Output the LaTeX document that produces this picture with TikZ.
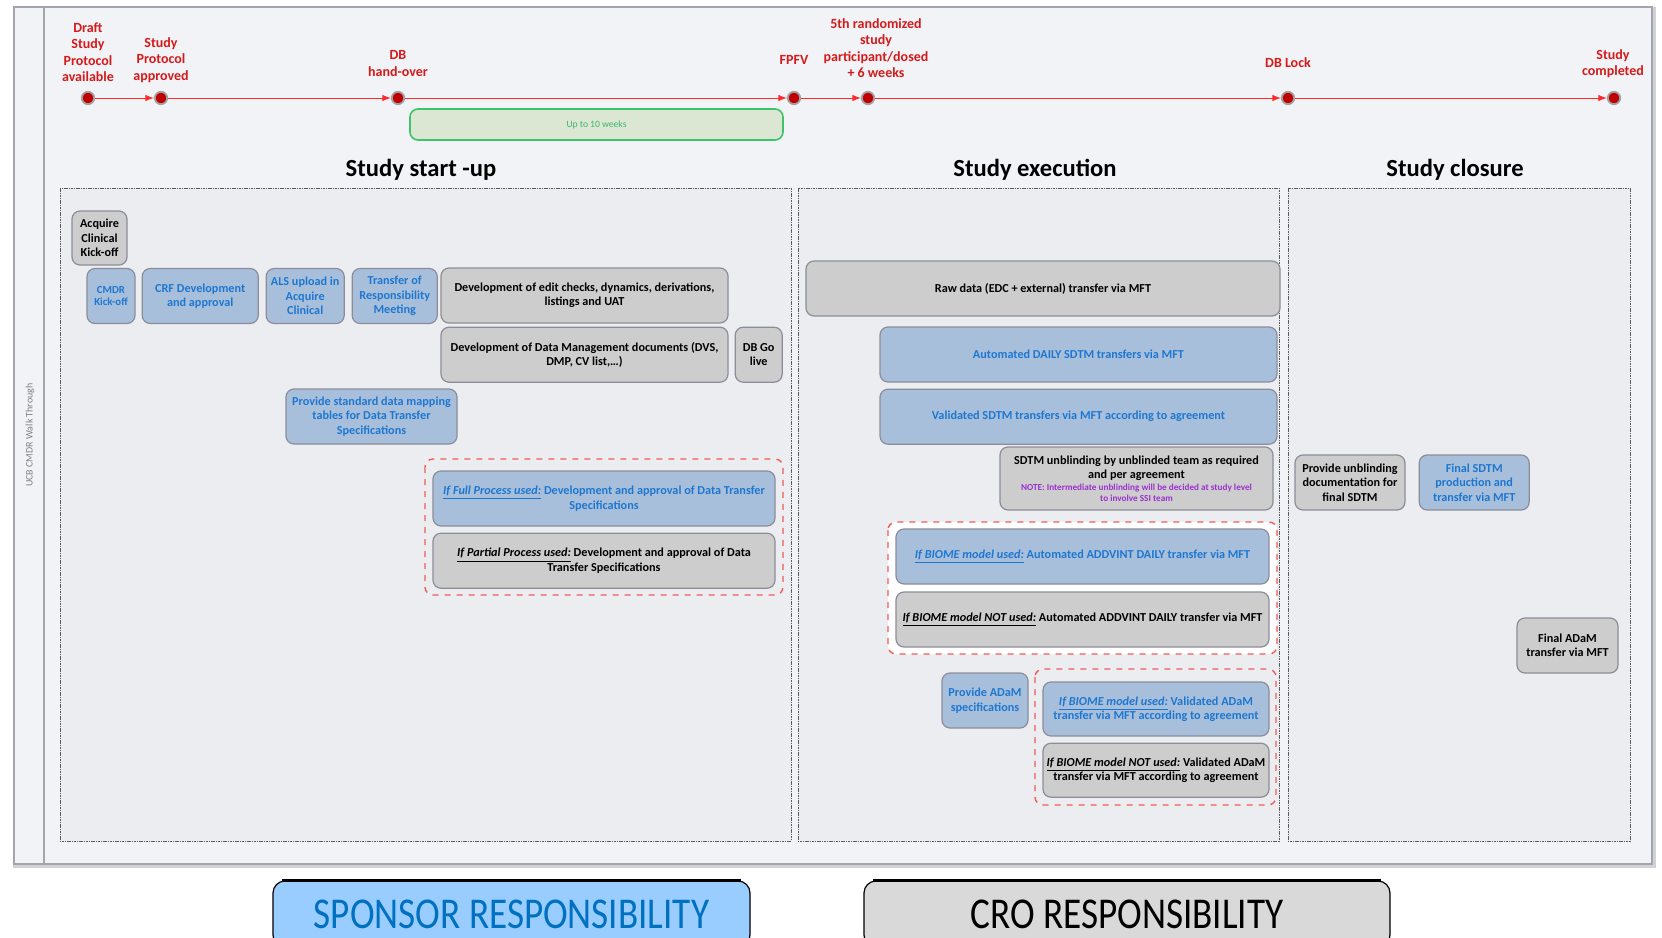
\documentclass[tikz,border=0pt]{standalone}
\usepackage{fontspec}
\setmainfont{Carlito}
\newfontfamily\legendfont{Carlito}[FakeStretch=0.845]
\usepackage{tikz}
\usetikzlibrary{positioning, arrows}
\definecolor{sponsorfill}{HTML}{A8BFDC}
\definecolor{sponsortext}{HTML}{1E77CF}
\definecolor{crofill}{HTML}{CDCDCD}
\definecolor{boxline}{HTML}{8C8D99}
\definecolor{milered}{HTML}{C00000}
\definecolor{ringgrey}{HTML}{A0A0A0}
\definecolor{labelred}{HTML}{D41A1A}
\definecolor{linered}{HTML}{FF2B2B}
\definecolor{panelfill}{HTML}{ECEDF1}
\definecolor{panelline}{HTML}{5A5A5A}
\definecolor{framefill}{HTML}{F2F3F7}
\definecolor{framegrey}{HTML}{A3A4AD}
\definecolor{groupred}{HTML}{EE5D57}
\definecolor{weeksfill}{HTML}{DCE7D3}
\definecolor{weeksline}{HTML}{3CC36B}
\definecolor{weekstext}{HTML}{3DB56E}
\definecolor{walkgrey}{HTML}{808080}
\definecolor{notepurple}{HTML}{9B30D0}
\definecolor{legendblue}{HTML}{99CCFF}
\definecolor{legendbluetext}{HTML}{0070C0}
\definecolor{legendgrey}{HTML}{D9D9D9}
\newcommand{\cond}[1]{\underline{\textit{#1}}}
\newcommand{\notetext}[1]{{\color{notepurple}\fontsize{4.6}{5.5}\selectfont #1}}

\begin{document}
\begin{tikzpicture}[
		x=0.5pt, y=-0.5pt,
		>=latex,
		node distance=3.4pt,
		every node/.style={inner sep=1pt},
		box/.style={rectangle, rounded corners=4pt, draw=boxline, line width=0.6pt, align=center, minimum height=27.5pt, font=\fontsize{6.1}{7.2}\selectfont\bfseries},
		sponsor/.style={box, fill=sponsorfill, text=sponsortext},
		cro/.style={box, fill=crofill, text=black},
		boxw/.style={minimum width=#1},
		milestone/.style={circle, fill=milered, draw=ringgrey, line width=0.9pt, minimum size=6.2pt, inner sep=0pt},
		mlabel/.style={align=center, text=labelred, font=\fontsize{7}{8.2}\selectfont\bfseries},
		timeline/.style={->, draw=linered, line width=0.5pt},
		phase/.style={font=\fontsize{12.3}{14}\selectfont\bfseries},
		panel/.style={draw=panelline, fill=panelfill, line width=0.4pt, dash pattern=on 0.8pt off 0.4pt},
		optgroup/.style={draw=groupred, dashed, line width=0.7pt, rounded corners=4pt},
		legend/.style={rectangle, rounded corners=6pt, draw=black, line width=0.6pt, minimum height=33pt, font=\legendfont\fontsize{22}{24}\selectfont}
	]
	
	\clip (0,0) rectangle (1662,938);
	\fill[white] (0,0) rectangle (1662,938);
	\draw[framegrey!50, line width=2pt] (15,9) rectangle (1654,866);
	\draw[fill=framefill, draw=framegrey, line width=1pt] (14,7) rectangle (1652,864);
	\draw[framegrey, line width=1pt] (44,7) -- (44,864);
	\node[rotate=90, text=walkgrey, font=\fontsize{5}{6}\selectfont] (walk) at (30,435) {UCB CMDR Walk Through};
	
	\draw[panel] (60,188) rectangle (791,841);
	\draw[panel] (798,188) rectangle (1279,841);
	\draw[panel] (1288,188) rectangle (1630,841);
	
	\node[phase] (startup) at (421,170) {Study start -up};
	\node[phase] (execution) at (1035,170) {Study execution};
	\node[phase] (closure) at (1455,170) {Study closure};
	
	% milestones
	\foreach \name/\x in {draft/88, approved/161, handover/398, fpfv/794, fifth/868, dblock/1288, completed/1614}
		\node[milestone] (\name) at (\x,98) {};
	\foreach \a/\b in {draft/approved, approved/handover, handover/fpfv, fpfv/fifth, fifth/dblock, dblock/completed}
		\draw[timeline] (\a) -- (\b);
	
	\node[mlabel] (draftlbl) at (88,52) {Draft\\Study\\Protocol\\available};
	\node[mlabel] (approvedlbl) at (161,60) {Study\\Protocol\\approved};
	\node[mlabel] (handoverlbl) at (398,63.5) {DB\\hand-over};
	\node[mlabel] (fpfvlbl) at (794,60) {FPFV};
	\node[mlabel] (fifthlbl) at (876,48) {5th randomized\\study\\participant/dosed\\+ 6 weeks};
	\node[mlabel] (dblocklbl) at (1288,63) {DB Lock};
	\node[mlabel] (completedlbl) at (1613,63.5) {Study\\completed};
	
	\node[rectangle, rounded corners=4pt, fill=weeksfill, draw=weeksline, line width=0.8pt, minimum width=186.5pt, minimum height=15.5pt, text=weekstext, font=\fontsize{4.8}{5}\selectfont] (weeks) at (596.5,124.5) {Up to 10 weeks};
	
	\draw[optgroup] (425,459) rectangle (783,595);
	\draw[optgroup, fill=white] (888,522) rectangle (1277,654);
	\draw[optgroup] (1035,669) rectangle (1276,805);
	
	% study start-up
	\node[cro, boxw=27.5pt, minimum height=27pt] (acquire) at (99.5,238) {Acquire\\Clinical\\Kick-off};
	\node[sponsor, boxw=24pt, font=\fontsize{5.4}{6.4}\selectfont\bfseries] (cmdr) at (111,296) {CMDR\\Kick-off};
	\node[sponsor, boxw=58pt, right=3pt of cmdr] (crf) {CRF Development\\and approval};
	\node[sponsor, boxw=39pt, right=of crf] (als) {ALS upload in\\Acquire\\Clinical};
	\node[sponsor, boxw=42.5pt, right=of als] (transfer) {Transfer of\\Responsibility\\Meeting};
	\node[cro, boxw=143.5pt] (editchecks) at (584.5,295.5) {Development of edit checks, dynamics, derivations,\\listings and UAT};
	\node[cro, boxw=143.5pt, below=1.5pt of editchecks] (dmdocs) {Development of Data Management documents (DVS,\\DMP, CV list,\ldots)};
	\node[cro, boxw=23.5pt, right=3pt of dmdocs] (golive) {DB Go\\live};
	\node[sponsor, boxw=85.5pt] (mapping) at (371.5,416.5) {Provide standard data mapping\\tables for Data Transfer\\Specifications};
	\node[sponsor, boxw=171pt] (fullproc) at (604,498.5) {\cond{If Full Process used:} Development and approval of Data Transfer\\Specifications};
	\node[cro, boxw=171pt, below=3pt of fullproc] (partproc) {\cond{If Partial Process used:} Development and approval of Data\\Transfer Specifications};
	
	% study execution
	\node[cro, boxw=237pt] (rawdata) at (1043,288.5) {Raw data (EDC + external) transfer via MFT};
	\node[sponsor, boxw=198.5pt] (sdtmdaily) at (1078.5,354.5) {Automated DAILY SDTM transfers via MFT};
	\node[sponsor, boxw=198.5pt, below=3pt of sdtmdaily] (sdtmvalid) {Validated SDTM transfers via MFT according to agreement};
	\node[cro, boxw=136.5pt, minimum height=31.5pt] (unblinding) at (1136.5,478.5) {SDTM unblinding by unblinded team as required\\and per agreement\\[-1pt]\notetext{NOTE: Intermediate unblinding will be decided at study level}\\[-2pt]\notetext{to involve SSI team}};
	\node[sponsor, boxw=186.5pt] (addvint) at (1082.5,556.5) {\cond{If BIOME model used:} Automated ADDVINT DAILY transfer via MFT};
	\node[cro, boxw=186.5pt, below=of addvint] (addvintnot) {\cond{If BIOME model NOT used:} Automated ADDVINT DAILY transfer via MFT};
	\node[sponsor, boxw=43pt] (adamspecs) at (985,700.5) {Provide ADaM\\specifications};
	\node[sponsor, boxw=113pt, minimum height=27pt] (adamvalid) at (1156,709) {\cond{If BIOME model used:} Validated ADaM\\transfer via MFT according to agreement};
	\node[cro, boxw=113pt, minimum height=27pt, below=3pt of adamvalid] (adamvalidnot) {\cond{If BIOME model NOT used:} Validated ADaM\\transfer via MFT according to agreement};
	
	% study closure
	\node[cro, boxw=55pt] (unblinddocs) at (1350,482.5) {Provide unblinding\\documentation for\\final SDTM};
	\node[sponsor, boxw=55pt, right=6.5pt of unblinddocs] (finalsdtm) {Final SDTM\\production and\\transfer via MFT};
	\node[cro, boxw=50.5pt] (finaladam) at (1567.5,645.5) {Final ADaM\\transfer via MFT};
	
	% legend
	\node[legend, fill=legendblue, text=legendbluetext, minimum width=238.5pt] (sponsorresp) at (511.5,914) {SPONSOR RESPONSIBILITY};
	\draw[line width=1.6pt] ([xshift=5pt]sponsorresp.north west) -- ([xshift=-5pt]sponsorresp.north east);
	\node[legend, fill=legendgrey, minimum width=263pt] (croresp) at (1127,914) {CRO RESPONSIBILITY};
	\draw[line width=1.6pt] ([xshift=5pt]croresp.north west) -- ([xshift=-5pt]croresp.north east);
\end{tikzpicture}
\end{document}
